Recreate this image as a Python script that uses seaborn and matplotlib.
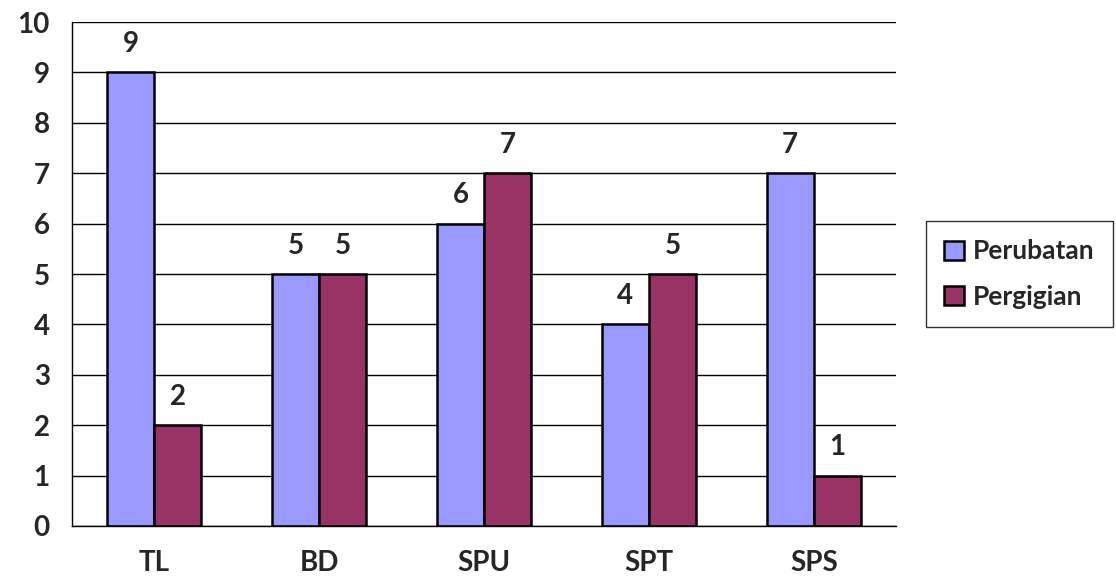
import pandas as pd
import matplotlib
matplotlib.use("Agg")
import matplotlib.pyplot as plt
import seaborn as sns

# chart data
categories = ["TL", "BD", "SPU", "SPT", "SPS"]
perubatan = [9, 5, 6, 4, 7]
pergigian = [2, 5, 7, 5, 1]
series_names = ["Perubatan", "Pergigian"]
colors = ["#9999FF", "#993366"]

df = pd.DataFrame({
    "kategori": categories * 2,
    "nilai": perubatan + pergigian,
    "jenis": [series_names[0]] * len(categories) + [series_names[1]] * len(categories),
})

sns.set_style("white")
plt.rcParams["font.family"] = ["Lato", "DejaVu Sans"]
plt.rcParams["font.weight"] = "bold"

fig = plt.figure(figsize=(11.16, 5.83), dpi=100)
ax = fig.add_axes([0.0645, 0.0978, 0.7385, 0.8644])

sns.barplot(data=df, x="kategori", y="nilai", hue="jenis", order=categories,
            hue_order=series_names, palette=colors, width=0.57, saturation=1,
            edgecolor="black", linewidth=1.8, ax=ax)

for cont in ax.containers:
    ax.bar_label(cont, fontsize=20, fontweight="bold", padding=11)

ax.set_ylim(0, 10)
ax.set_yticks(range(0, 11))
ax.set_xlim(-0.5, len(categories) - 0.5)
ax.set_xlabel("")
ax.set_ylabel("")

# horizontal gridlines
ax.yaxis.grid(True, color="black", linewidth=1)
ax.set_axisbelow(True)

for s in ["top", "right"]:
    ax.spines[s].set_visible(False)
ax.spines["left"].set_color("black")
ax.spines["bottom"].set_color("black")
ax.spines["left"].set_linewidth(1)
ax.spines["bottom"].set_linewidth(1)

# y ticks outward, x ticks at category boundaries
ax.tick_params(axis="y", direction="out", length=10, width=1, color="black",
               labelsize=20, pad=6)
ax.set_xticks(range(len(categories)))
ax.set_xticklabels(categories)
ax.tick_params(axis="x", length=0, labelsize=20, pad=17)
ax.set_xticks([i - 0.5 for i in range(len(categories) + 1)], minor=True)
ax.tick_params(axis="x", which="minor", direction="out", length=10, width=1, color="black")
for lbl in ax.get_xticklabels() + ax.get_yticklabels():
    lbl.set_fontweight("bold")

leg = ax.legend(loc="center left", bbox_to_anchor=(1.02, 0.5), fontsize=19,
                frameon=True, fancybox=False, edgecolor="black",
                handlelength=0.75, handleheight=0.75, handletextpad=0.35,
                labelspacing=0.8, borderpad=0.7, title=None)
leg.get_frame().set_linewidth(1)
for t in leg.get_texts():
    t.set_fontweight("bold")

fig.savefig("out.png", dpi=100)
